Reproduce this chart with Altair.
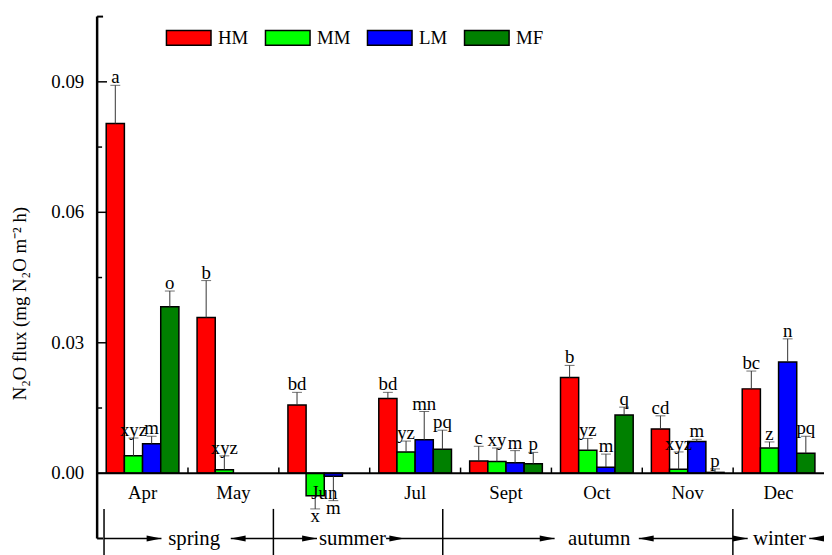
import altair as alt
import pandas as pd

FONT = "Liberation Serif"

months = ["Apr", "May", "Jun", "Jul", "Sept", "Oct", "Nov", "Dec"]
series = ["HM", "MM", "LM", "MF"]
colors = ["#FF0000", "#00FF00", "#0000FF", "#008000"]

hm_mean = [0.0804, 0.0358, 0.0157, 0.0172, 0.0028, 0.0220, 0.0102, 0.0194]
hm_err = [0.0088, 0.0085, 0.0029, 0.0014, 0.0034, 0.0028, 0.0030, 0.0041]
hm_lab = ["a", "b", "bd", "bd", "c", "b", "cd", "bc"]

mm_mean = [0.0040, 0.0008, -0.0052, 0.0049, 0.0027, 0.0053, 0.0009, 0.0058]
mm_err = [0.0041, 0.0032, 0.0030, 0.0025, 0.0031, 0.0027, 0.0040, 0.0014]
mm_lab = ["xyz", "xyz", "x", "yz", "xy", "yz", "xyz", "z"]

lm_mean = [0.0068, None, -0.0007, 0.0077, 0.0024, 0.0014, 0.0073, 0.0256]
lm_err = [0.0017, None, 0.0056, 0.0065, 0.0028, 0.0030, 0.0005, 0.0053]
lm_lab = ["m", "", "m", "mn", "m", "m", "m", "n"]

mf_mean = [0.0383, None, None, 0.0055, 0.0022, 0.0134, 0.0002, 0.0046]
mf_err = [0.0036, None, None, 0.0044, 0.0026, 0.0018, 0.0008, 0.0039]
mf_lab = ["o", "", "", "pq", "p", "q", "p", "pq"]

y_major = [0.0, 0.03, 0.06, 0.09]
y_major_labels = ["0.00", "0.03", "0.06", "0.09"]
y_minor = [0.015, 0.045, 0.075]
y_ends = [-0.015, 0.105]
y_title = "N₂O flux (mg N₂O m⁻² h)"

# season annotation (x in month units, 0..8)
season_names = ["spring", "summer", "autumn", "winter"]
season_centers = [1.068, 2.81, 5.526, 7.51]
season_dividers = [0.076, 1.94, 3.804, 6.997]
arrow_starts = [0.076, 1.471, 1.94, 3.18, 3.804, 5.962, 6.997, 7.837]
arrow_ends = [0.708, 1.94, 2.42, 3.804, 5.035, 6.997, 7.16, 8.0]
heads_right = [0.708, 2.42, 3.38, 5.035, 7.16]
heads_left = [1.471, 5.962, 7.837]

# grouped-bar geometry in month units (one band per month, 4 bars per group)
GROUP_PAD = 0.1
BAR_W = 0.2

rows = []
for k, (s, means, errs, labs) in enumerate(zip(series, [hm_mean, mm_mean, lm_mean, mf_mean],
                                               [hm_err, mm_err, lm_err, mf_err],
                                               [hm_lab, mm_lab, lm_lab, mf_lab])):
    for i, (m, v, e, l) in enumerate(zip(months, means, errs, labs)):
        if v is None:
            continue
        hi = v + e if v >= 0 else v - e
        x0 = i + GROUP_PAD + k * BAR_W
        rows.append(dict(month=m, series=s, value=v, hi=hi, label=l,
                         x0=x0, x1=x0 + BAR_W, xc=x0 + BAR_W / 2))
df = pd.DataFrame(rows)

y_scale = alt.Scale(domain=[-0.015, 0.105], nice=False, zero=False)
x_scale = alt.Scale(domain=[0, len(months)], nice=False, zero=False)


def X(field):
    return alt.X(field, scale=x_scale, axis=None)


def Y(field=None, datum=None):
    if datum is not None:
        return alt.Y(datum=datum, scale=y_scale, axis=None)
    return alt.Y(field, scale=y_scale, axis=None)


base = alt.Chart(df)

bars = base.mark_bar(stroke="black", strokeWidth=1.5).encode(
    x=X("x0:Q"), x2="x1:Q",
    y=Y("value:Q"), y2=alt.Y2(datum=0),
    color=alt.Color("series:N", scale=alt.Scale(domain=series, range=colors),
                    legend=alt.Legend(title=None, orient="none", direction="horizontal",
                                      legendX=69, legendY=-2, padding=0,
                                      symbolType="M-1,-0.333H1V0.333H-1Z", symbolSize=2025,
                                      symbolStrokeColor="black", symbolStrokeWidth=1.5,
                                      symbolOpacity=1,
                                      labelFont=FONT, labelFontSize=19, labelColor="black",
                                      labelOffset=6, columnPadding=14)),
)

err = base.mark_rule(color="#333333", strokeWidth=1).encode(
    x=X("xc:Q"), y=Y("value:Q"), y2="hi:Q")

caps = base.mark_tick(color="#333333", thickness=1, size=10, orient="horizontal").encode(
    x=X("xc:Q"), y=Y("hi:Q"))

lab_pos = base.transform_filter("datum.value >= 0").mark_text(
    font=FONT, fontSize=19, baseline="alphabetic", dy=-2, color="black").encode(
    x=X("xc:Q"), y=Y("hi:Q"), text="label:N")

lab_neg = base.transform_filter("datum.value < 0").mark_text(
    font=FONT, fontSize=19, baseline="alphabetic", dy=13, color="black").encode(
    x=X("xc:Q"), y=Y("hi:Q"), text="label:N")

# axes drawn as marks
x_line = alt.Chart(pd.DataFrame({"a": [0], "b": [len(months)]})).mark_rule(
    color="black", strokeWidth=2).encode(x=X("a:Q"), x2="b:Q", y=Y(datum=0))

y_line = alt.Chart(pd.DataFrame({"a": [y_ends[0]], "b": [y_ends[1]]})).mark_rule(
    color="black", strokeWidth=2.5).encode(y=Y("a:Q"), y2="b:Q", x=alt.value(0))

xticks = alt.Chart(pd.DataFrame({"b": list(range(1, len(months)))})).mark_rule(
    color="black", strokeWidth=1.5).encode(
    x=X("b:Q"), y=Y(datum=0), y2=alt.Y2(datum=0.0013))

xlabels = alt.Chart(pd.DataFrame({"pos": [i + 0.5 for i in range(len(months))],
                                  "m": months})).mark_text(
    font=FONT, fontSize=19, baseline="alphabetic", dy=26, color="black").encode(
    x=X("pos:Q"), y=Y(datum=0), text="m:N")

ymaj = alt.Chart(pd.DataFrame({"y": y_major})).mark_rule(color="black", strokeWidth=1.5).encode(
    y=Y("y:Q"), x=alt.value(0), x2=alt.value(10))
ymin = alt.Chart(pd.DataFrame({"y": y_minor})).mark_rule(color="black", strokeWidth=1.5).encode(
    y=Y("y:Q"), x=alt.value(0), x2=alt.value(5))
yend = alt.Chart(pd.DataFrame({"y": y_ends})).mark_rule(color="black", strokeWidth=2).encode(
    y=Y("y:Q"), x=alt.value(0), x2=alt.value(6))

ylabels = alt.Chart(pd.DataFrame({"y": y_major, "t": y_major_labels})).mark_text(
    font=FONT, fontSize=19, align="right", baseline="middle", color="black").encode(
    y=Y("y:Q"), x=alt.value(-13), text="t:N")

ytitle = alt.Chart(pd.DataFrame({"t": [y_title]})).mark_text(
    font=FONT, fontSize=19, angle=270, align="center", baseline="alphabetic",
    color="black").encode(y=Y(datum=0.039), x=alt.value(-72), text="t:N")

# season brackets
div = alt.Chart(pd.DataFrame({"pos": season_dividers})).mark_rule(
    color="black", strokeWidth=1.5).encode(
    x=X("pos:Q"), y=Y(datum=-0.0082), y2=alt.Y2(datum=-0.02))

arrows = alt.Chart(pd.DataFrame({"a": arrow_starts, "b": arrow_ends})).mark_rule(
    color="black", strokeWidth=1.5).encode(
    x=X("a:Q"), x2="b:Q", y=Y(datum=-0.015))

hr = alt.Chart(pd.DataFrame({"pos": heads_right})).mark_point(
    shape="M0,0L-2,-0.4L-2,0.4Z", size=225, filled=True, color="black", opacity=1).encode(
    x=X("pos:Q"), y=Y(datum=-0.015))

hl = alt.Chart(pd.DataFrame({"pos": heads_left})).mark_point(
    shape="M0,0L2,-0.4L2,0.4Z", size=225, filled=True, color="black", opacity=1).encode(
    x=X("pos:Q"), y=Y(datum=-0.015))

stext = alt.Chart(pd.DataFrame({"pos": season_centers, "name": season_names})).mark_text(
    font=FONT, fontSize=21, baseline="alphabetic", color="black").encode(
    x=X("pos:Q"), y=Y(datum=-0.0166), text="name:N")

chart = alt.layer(bars, err, caps, lab_pos, lab_neg, x_line, y_line, xticks, xlabels,
                  ymaj, ymin, yend, ylabels, ytitle,
                  div, arrows, hr, hl, stext).properties(
    width=734, height=527,
    padding={"left": 90, "top": 6, "right": 0, "bottom": 14},
    autosize=alt.AutoSizeParams(type="none"),
    background="white",
).configure(font=FONT).configure_view(stroke="transparent")

chart.save("out.html", embed_options={"renderer": "svg", "actions": False})
